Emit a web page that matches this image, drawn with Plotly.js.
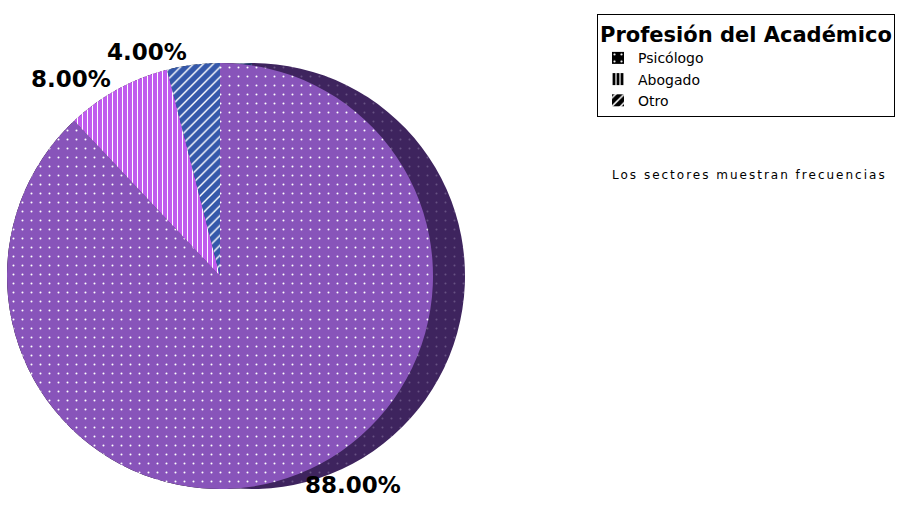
<!DOCTYPE html>
<html><head><meta charset="utf-8">
<script src="https://cdn.plot.ly/plotly-3.0.1.min.js"></script>
<style>html,body{margin:0;padding:0;background:#fff}#chart{width:912px;height:517px}</style>
</head><body><div id="chart"></div>
<script>
const labels = ["Psicólogo", "Abogado", "Otro"];
const values = [88, 8, 4];
const faceColors = ["rgb(136,84,186)", "rgb(192,92,238)", "rgb(52,88,170)"];
const shadowColors = ["rgb(62,36,94)", "rgb(80,45,120)", "rgb(30,50,100)"];
const legendColors = ["#000000", "#000000", "#000000"];
const patternShapes = [".", "|", "/"];
const legendTitle = "Profesión del Académico";
const note = "Los sectores muestran frecuencias";

const W = 912, H = 517;
function dom(cx, cy, r) {
  return {x: [(cx - r) / W, (cx + r) / W], y: [1 - (cy + r) / H, 1 - (cy - r) / H]};
}
const common = {
  type: "pie", labels: labels, values: values, sort: false,
  direction: "clockwise", rotation: 0, hoverinfo: "none"
};
const traces = [
  Object.assign({}, common, {
    domain: dom(220, 276, 213), textinfo: "none", showlegend: true,
    marker: {colors: legendColors, line: {width: 0},
      pattern: {shape: patternShapes, fgcolor: "#ffffff", bgcolor: legendColors, size: [7, 4, 6], solidity: [0.08, 0.3, 0.25]}}
  }),
  Object.assign({}, common, {
    domain: dom(252, 276, 213), textinfo: "none", showlegend: false,
    marker: {colors: shadowColors, line: {width: 0},
      pattern: {shape: patternShapes, fgcolor: "rgba(200,190,220,0.3)", bgcolor: shadowColors, size: [9, 5, 7], solidity: [0.04, 0.2, 0.2]}}
  }),
  Object.assign({}, common, {
    domain: dom(220, 276, 213), showlegend: false,
    textinfo: "percent", texttemplate: "<b>%{percent:.2%}</b>", textposition: "outside",
    outsidetextfont: {family: "DejaVu Sans, sans-serif", size: 23, color: "#000"},
    marker: {colors: faceColors, line: {width: 0},
      pattern: {shape: patternShapes, fgcolor: "#ffffff", bgcolor: faceColors, size: [9, 5, 7], solidity: [0.04, 0.2, 0.2]}}
  })
];
const layout = {
  width: W, height: H, margin: {l: 0, r: 0, t: 0, b: 0},
  paper_bgcolor: "#fff", plot_bgcolor: "#fff",
  font: {family: "DejaVu Sans, sans-serif", color: "#000"},
  showlegend: true,
  legend: {
    x: 597 / W, xanchor: "left", y: 1 - 14 / H, yanchor: "top",
    bordercolor: "#000", borderwidth: 1, bgcolor: "#fff",
    font: {family: "DejaVu Sans, sans-serif", size: 14, color: "#000"},
    title: {text: "<b>" + legendTitle + "</b>", font: {family: "DejaVu Sans, sans-serif", size: 21, color: "#000"}},
    traceorder: "normal"
  },
  annotations: [{
    text: '<span style="letter-spacing:2px">' + note + '</span>', xref: "paper", yref: "paper", x: 610 / W, y: 1 - 175 / H,
    xanchor: "left", yanchor: "middle", showarrow: false,
    font: {family: "DejaVu Sans, sans-serif", size: 12, color: "#000"}
  }]
};
Plotly.newPlot("chart", traces, layout, {displayModeBar: false, staticPlot: true});
</script></body></html>
